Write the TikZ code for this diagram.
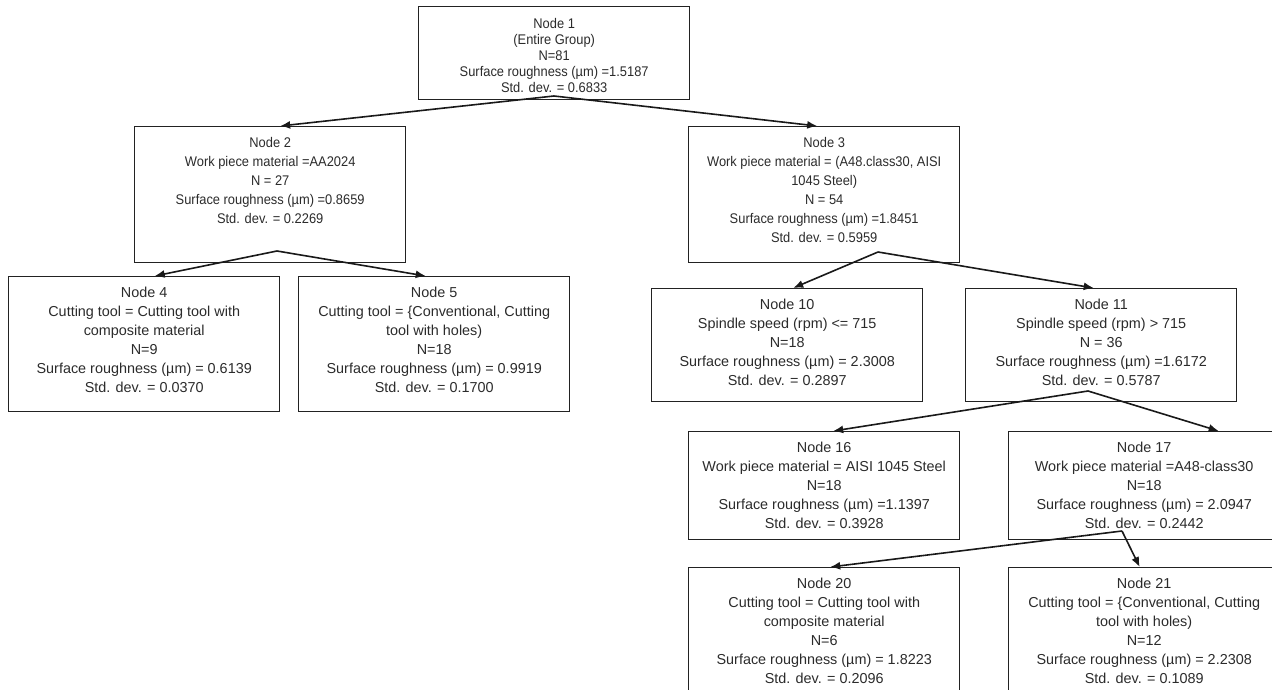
\documentclass[tikz,border=0pt]{standalone}
\usepackage{fontspec}
\setmainfont{Liberation Sans}
\newfontfamily\condfont[FakeStretch=0.92]{Liberation Sans}
\usetikzlibrary{arrows.meta}
\definecolor{ink}{HTML}{2B2B2B}
\definecolor{edge}{HTML}{222222}
\tikzset{
  box/.style={draw=edge, line width=1.4pt, anchor=north west, inner sep=0pt, minimum width=271pt},
  txt/.style={align=center, inner sep=0pt, anchor=north, text=ink, font=\fontsize{14.4pt}{19pt}\selectfont},
  txtn/.style={txt, font=\condfont\fontsize{14pt}{19pt}\selectfont},
  txtr/.style={txt, font=\condfont\fontsize{14pt}{16pt}\selectfont},
  arr/.style={draw=black!90, line width=1.6pt, -{Latex[length=10pt,width=8pt]}}
}
\begin{document}
\begin{tikzpicture}[x=1pt,y=-1pt]
\useasboundingbox (0,0) rectangle (1272,690);
\clip (0,0) rectangle (1272,690);
% boxes
\node[box, minimum height=93pt]  (n1)  at (418,6)   {};
\node[box, minimum height=136pt] (n2)  at (134,126) {};
\node[box, minimum height=136pt] (n3)  at (688,126) {};
\node[box, minimum height=135pt] (n4)  at (8,276)   {};
\node[box, minimum height=135pt] (n5)  at (298,276) {};
\node[box, minimum height=113pt] (n10) at (651,288) {};
\node[box, minimum height=113pt] (n11) at (965,288) {};
\node[box, minimum height=108pt] (n16) at (688,431) {};
\node[box, minimum height=108pt] (n17) at (1008,431) {};
\node[box, minimum height=135pt] (n20) at (688,567) {};
\node[box, minimum height=135pt] (n21) at (1008,567) {};
% texts
\node[txtr] (t1) at ([yshift=-12.5pt]n1.north) {Node 1\\(Entire Group)\\N=81\\Surface roughness (µm) =1.5187\\Std. dev. = 0.6833};
\node[txtn] (t2) at ([yshift=-11pt]n2.north) {Node 2\\Work piece material =AA2024\\N = 27\\Surface roughness (µm) =0.8659\\Std. dev. = 0.2269};
\node[txtn] (t3) at ([yshift=-11pt]n3.north) {Node 3\\Work piece material = (A48.class30, AISI\\1045 Steel)\\N = 54\\Surface roughness (µm) =1.8451\\Std. dev. = 0.5959};
\node[txt] (t4) at ([yshift=-10.5pt]n4.north) {Node 4\\Cutting tool = Cutting tool with\\composite material\\N=9\\Surface roughness (µm) = 0.6139\\Std. dev. = 0.0370};
\node[txt] (t5) at ([yshift=-10.5pt]n5.north) {Node 5\\Cutting tool = \{Conventional, Cutting\\tool with holes)\\N=18\\Surface roughness (µm) = 0.9919\\Std. dev. = 0.1700};
\node[txt] (t10) at ([yshift=-10.5pt]n10.north) {Node 10\\Spindle speed (rpm) <= 715\\N=18\\Surface roughness (µm) = 2.3008\\Std. dev. = 0.2897};
\node[txt] (t11) at ([yshift=-10.5pt]n11.north) {Node 11\\Spindle speed (rpm) > 715\\N = 36\\Surface roughness (µm) =1.6172\\Std. dev. = 0.5787};
\node[txt] (t16) at ([yshift=-10.5pt]n16.north) {Node 16\\Work piece material = AISI 1045 Steel\\N=18\\Surface roughness (µm) =1.1397\\Std. dev. = 0.3928};
\node[txt] (t17) at ([yshift=-10.5pt]n17.north) {Node 17\\Work piece material =A48-class30\\N=18\\Surface roughness (µm) = 2.0947\\Std. dev. = 0.2442};
\node[txt] (t20) at ([yshift=-10.5pt]n20.north) {Node 20\\Cutting tool = Cutting tool with\\composite material\\N=6\\Surface roughness (µm) = 1.8223\\Std. dev. = 0.2096};
\node[txt] (t21) at ([yshift=-10.5pt]n21.north) {Node 21\\Cutting tool = \{Conventional, Cutting\\tool with holes)\\N=12\\Surface roughness (µm) = 2.2308\\Std. dev. = 0.1089};
% split points
\coordinate (o1)  at (554,96);
\coordinate (o2)  at (277,251);
\coordinate (o3)  at (878,252);
\coordinate (o11) at (1088,391);
\coordinate (o17) at (1122,531);
% connectors
\draw[arr] (o1) -- ([xshift=10pt]n2.north);
\draw[arr] (o1) -- ([xshift=-7pt]n3.north);
\draw[arr] (o2) -- ([xshift=10.5pt]n4.north);
\draw[arr] (o2) -- ([xshift=-8.5pt]n5.north);
\draw[arr] (o3) -- ([xshift=6pt]n10.north);
\draw[arr] (o3) -- ([xshift=-7.5pt]n11.north);
\draw[arr] (o11) -- ([xshift=9pt]n16.north);
\draw[arr] (o11) -- ([xshift=74.5pt]n17.north);
\draw[arr] (o17) -- ([xshift=6pt]n20.north);
\draw[arr] (o17) -- ([xshift=-4.5pt]n21.north);
\end{tikzpicture}
\end{document}
